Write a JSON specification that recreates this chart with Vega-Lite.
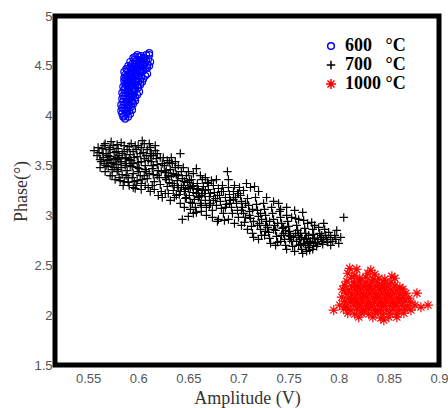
{
"$schema": "https://vega.github.io/schema/vega-lite/v6.json",
"width": 384, "height": 349,
"autosize": {"type": "none"},
"padding": {"left": 55, "top": 16, "right": 9, "bottom": 43},
"background": "white",
"config": {
  "view": {"stroke": "#000", "strokeWidth": 5},
  "axis": {"labelFont": "Liberation Sans", "labelFontSize": 13, "labelColor": "#555", "titleFont": "Liberation Serif", "titleFontSize": 18, "titleFontWeight": "normal", "titleColor": "#333", "ticks": false, "domain": false, "grid": false, "labelOverlap": false, "labelFlush": false},
  "legend": {"orient": "none", "legendX": 267, "legendY": 21, "padding": 0, "labelFont": "Liberation Serif", "labelFontWeight": "bold", "labelFontSize": 18, "labelColor": "#000", "symbolSize": 50, "rowPadding": 1, "labelOffset": 5}
},
"data": {"values": [
{"a":0.587,"p":3.97,"t":"600"},{"a":0.585,"p":3.99,"t":"600"},{"a":0.590,"p":3.99,"t":"600"},{"a":0.584,"p":4.02,"t":"600"},{"a":0.588,"p":4.02,"t":"600"},{"a":0.592,"p":4.02,"t":"600"},{"a":0.583,"p":4.05,"t":"600"},{"a":0.587,"p":4.05,"t":"600"},{"a":0.591,"p":4.05,"t":"600"},{"a":0.594,"p":4.06,"t":"600"},{"a":0.584,"p":4.08,"t":"600"},{"a":0.589,"p":4.08,"t":"600"},{"a":0.593,"p":4.09,"t":"600"},{"a":0.583,"p":4.11,"t":"600"},{"a":0.586,"p":4.11,"t":"600"},{"a":0.590,"p":4.12,"t":"600"},{"a":0.595,"p":4.12,"t":"600"},{"a":0.585,"p":4.14,"t":"600"},{"a":0.589,"p":4.14,"t":"600"},{"a":0.593,"p":4.15,"t":"600"},{"a":0.597,"p":4.15,"t":"600"},{"a":0.584,"p":4.17,"t":"600"},{"a":0.588,"p":4.17,"t":"600"},{"a":0.592,"p":4.18,"t":"600"},{"a":0.597,"p":4.18,"t":"600"},{"a":0.585,"p":4.20,"t":"600"},{"a":0.590,"p":4.20,"t":"600"},{"a":0.594,"p":4.21,"t":"600"},{"a":0.599,"p":4.21,"t":"600"},{"a":0.584,"p":4.23,"t":"600"},{"a":0.587,"p":4.23,"t":"600"},{"a":0.591,"p":4.24,"t":"600"},{"a":0.596,"p":4.24,"t":"600"},{"a":0.601,"p":4.24,"t":"600"},{"a":0.586,"p":4.26,"t":"600"},{"a":0.590,"p":4.27,"t":"600"},{"a":0.594,"p":4.27,"t":"600"},{"a":0.600,"p":4.28,"t":"600"},{"a":0.585,"p":4.29,"t":"600"},{"a":0.589,"p":4.30,"t":"600"},{"a":0.593,"p":4.30,"t":"600"},{"a":0.597,"p":4.31,"t":"600"},{"a":0.602,"p":4.31,"t":"600"},{"a":0.587,"p":4.32,"t":"600"},{"a":0.591,"p":4.33,"t":"600"},{"a":0.595,"p":4.33,"t":"600"},{"a":0.600,"p":4.34,"t":"600"},{"a":0.604,"p":4.34,"t":"600"},{"a":0.586,"p":4.35,"t":"600"},{"a":0.590,"p":4.36,"t":"600"},{"a":0.594,"p":4.36,"t":"600"},{"a":0.598,"p":4.37,"t":"600"},{"a":0.605,"p":4.37,"t":"600"},{"a":0.588,"p":4.38,"t":"600"},{"a":0.592,"p":4.39,"t":"600"},{"a":0.596,"p":4.39,"t":"600"},{"a":0.601,"p":4.40,"t":"600"},{"a":0.607,"p":4.40,"t":"600"},{"a":0.587,"p":4.41,"t":"600"},{"a":0.591,"p":4.42,"t":"600"},{"a":0.595,"p":4.42,"t":"600"},{"a":0.599,"p":4.43,"t":"600"},{"a":0.603,"p":4.43,"t":"600"},{"a":0.609,"p":4.42,"t":"600"},{"a":0.586,"p":4.44,"t":"600"},{"a":0.590,"p":4.45,"t":"600"},{"a":0.594,"p":4.45,"t":"600"},{"a":0.598,"p":4.46,"t":"600"},{"a":0.602,"p":4.46,"t":"600"},{"a":0.607,"p":4.47,"t":"600"},{"a":0.589,"p":4.47,"t":"600"},{"a":0.593,"p":4.48,"t":"600"},{"a":0.597,"p":4.49,"t":"600"},{"a":0.601,"p":4.49,"t":"600"},{"a":0.605,"p":4.50,"t":"600"},{"a":0.611,"p":4.50,"t":"600"},{"a":0.590,"p":4.50,"t":"600"},{"a":0.594,"p":4.52,"t":"600"},{"a":0.598,"p":4.52,"t":"600"},{"a":0.602,"p":4.53,"t":"600"},{"a":0.607,"p":4.53,"t":"600"},{"a":0.612,"p":4.54,"t":"600"},{"a":0.592,"p":4.54,"t":"600"},{"a":0.596,"p":4.56,"t":"600"},{"a":0.600,"p":4.56,"t":"600"},{"a":0.605,"p":4.57,"t":"600"},{"a":0.610,"p":4.57,"t":"600"},{"a":0.597,"p":4.59,"t":"600"},{"a":0.601,"p":4.59,"t":"600"},{"a":0.606,"p":4.58,"t":"600"},{"a":0.599,"p":4.61,"t":"600"},{"a":0.611,"p":4.61,"t":"600"},{"a":0.611,"p":4.63,"t":"600"},{"a":0.595,"p":4.58,"t":"600"},
{"a":0.586,"p":4.00,"t":"600"},{"a":0.589,"p":4.04,"t":"600"},{"a":0.586,"p":4.07,"t":"600"},{"a":0.591,"p":4.10,"t":"600"},{"a":0.588,"p":4.13,"t":"600"},{"a":0.591,"p":4.16,"t":"600"},{"a":0.595,"p":4.19,"t":"600"},{"a":0.587,"p":4.19,"t":"600"},{"a":0.592,"p":4.22,"t":"600"},{"a":0.589,"p":4.25,"t":"600"},{"a":0.597,"p":4.26,"t":"600"},{"a":0.587,"p":4.28,"t":"600"},{"a":0.591,"p":4.29,"t":"600"},{"a":0.595,"p":4.29,"t":"600"},{"a":0.599,"p":4.30,"t":"600"},{"a":0.589,"p":4.33,"t":"600"},{"a":0.593,"p":4.34,"t":"600"},{"a":0.597,"p":4.35,"t":"600"},{"a":0.602,"p":4.36,"t":"600"},{"a":0.588,"p":4.36,"t":"600"},{"a":0.594,"p":4.38,"t":"600"},{"a":0.598,"p":4.40,"t":"600"},{"a":0.603,"p":4.39,"t":"600"},{"a":0.589,"p":4.40,"t":"600"},{"a":0.593,"p":4.43,"t":"600"},{"a":0.597,"p":4.44,"t":"600"},{"a":0.601,"p":4.44,"t":"600"},{"a":0.605,"p":4.45,"t":"600"},{"a":0.588,"p":4.47,"t":"600"},{"a":0.592,"p":4.49,"t":"600"},{"a":0.596,"p":4.47,"t":"600"},{"a":0.600,"p":4.48,"t":"600"},{"a":0.604,"p":4.48,"t":"600"},{"a":0.609,"p":4.48,"t":"600"},{"a":0.596,"p":4.51,"t":"600"},{"a":0.600,"p":4.51,"t":"600"},{"a":0.604,"p":4.52,"t":"600"},{"a":0.609,"p":4.51,"t":"600"},{"a":0.598,"p":4.55,"t":"600"},{"a":0.603,"p":4.55,"t":"600"},{"a":0.608,"p":4.55,"t":"600"},{"a":0.603,"p":4.60,"t":"600"},{"a":0.608,"p":4.61,"t":"600"},{"a":0.594,"p":4.14,"t":"600"},{"a":0.586,"p":4.38,"t":"600"},
{"a":0.556,"p":3.65,"t":"700"},{"a":0.559,"p":3.60,"t":"700"},{"a":0.561,"p":3.63,"t":"700"},{"a":0.562,"p":3.56,"t":"700"},{"a":0.564,"p":3.67,"t":"700"},{"a":0.565,"p":3.58,"t":"700"},{"a":0.566,"p":3.52,"t":"700"},{"a":0.567,"p":3.72,"t":"700"},{"a":0.568,"p":3.62,"t":"700"},{"a":0.569,"p":3.55,"t":"700"},{"a":0.570,"p":3.49,"t":"700"},{"a":0.571,"p":3.66,"t":"700"},{"a":0.572,"p":3.59,"t":"700"},{"a":0.573,"p":3.53,"t":"700"},{"a":0.574,"p":3.46,"t":"700"},{"a":0.575,"p":3.70,"t":"700"},{"a":0.576,"p":3.63,"t":"700"},{"a":0.577,"p":3.57,"t":"700"},{"a":0.578,"p":3.51,"t":"700"},{"a":0.579,"p":3.44,"t":"700"},{"a":0.580,"p":3.67,"t":"700"},{"a":0.581,"p":3.60,"t":"700"},{"a":0.582,"p":3.54,"t":"700"},{"a":0.583,"p":3.48,"t":"700"},{"a":0.584,"p":3.41,"t":"700"},{"a":0.585,"p":3.30,"t":"700"},{"a":0.586,"p":3.64,"t":"700"},{"a":0.587,"p":3.58,"t":"700"},{"a":0.588,"p":3.52,"t":"700"},{"a":0.589,"p":3.45,"t":"700"},{"a":0.590,"p":3.38,"t":"700"},{"a":0.591,"p":3.69,"t":"700"},{"a":0.592,"p":3.61,"t":"700"},{"a":0.593,"p":3.55,"t":"700"},{"a":0.594,"p":3.49,"t":"700"},{"a":0.595,"p":3.42,"t":"700"},{"a":0.596,"p":3.34,"t":"700"},{"a":0.597,"p":3.27,"t":"700"},{"a":0.598,"p":3.66,"t":"700"},{"a":0.599,"p":3.59,"t":"700"},{"a":0.600,"p":3.53,"t":"700"},{"a":0.601,"p":3.47,"t":"700"},{"a":0.602,"p":3.40,"t":"700"},{"a":0.603,"p":3.32,"t":"700"},{"a":0.604,"p":3.75,"t":"700"},{"a":0.605,"p":3.63,"t":"700"},{"a":0.606,"p":3.57,"t":"700"},{"a":0.607,"p":3.50,"t":"700"},{"a":0.608,"p":3.44,"t":"700"},{"a":0.609,"p":3.37,"t":"700"},{"a":0.610,"p":3.28,"t":"700"},{"a":0.611,"p":3.72,"t":"700"},{"a":0.612,"p":3.60,"t":"700"},{"a":0.613,"p":3.54,"t":"700"},{"a":0.614,"p":3.47,"t":"700"},{"a":0.615,"p":3.41,"t":"700"},{"a":0.616,"p":3.34,"t":"700"},{"a":0.617,"p":3.65,"t":"700"},{"a":0.618,"p":3.57,"t":"700"},{"a":0.619,"p":3.51,"t":"700"},{"a":0.620,"p":3.45,"t":"700"},{"a":0.621,"p":3.38,"t":"700"},{"a":0.622,"p":3.31,"t":"700"},{"a":0.623,"p":3.24,"t":"700"},
{"a":0.568,"p":3.50,"t":"700"},{"a":0.572,"p":3.68,"t":"700"},{"a":0.576,"p":3.48,"t":"700"},{"a":0.580,"p":3.56,"t":"700"},{"a":0.584,"p":3.62,"t":"700"},{"a":0.588,"p":3.40,"t":"700"},{"a":0.592,"p":3.50,"t":"700"},{"a":0.596,"p":3.58,"t":"700"},{"a":0.600,"p":3.44,"t":"700"},{"a":0.604,"p":3.36,"t":"700"},{"a":0.574,"p":3.40,"t":"700"},{"a":0.582,"p":3.35,"t":"700"},{"a":0.590,"p":3.33,"t":"700"},{"a":0.598,"p":3.30,"t":"700"},{"a":0.606,"p":3.40,"t":"700"},{"a":0.610,"p":3.55,"t":"700"},{"a":0.586,"p":3.70,"t":"700"},{"a":0.578,"p":3.64,"t":"700"},{"a":0.595,"p":3.64,"t":"700"},{"a":0.602,"p":3.62,"t":"700"},{"a":0.563,"p":3.54,"t":"700"},{"a":0.570,"p":3.60,"t":"700"},{"a":0.580,"p":3.46,"t":"700"},{"a":0.588,"p":3.57,"t":"700"},{"a":0.594,"p":3.38,"t":"700"},{"a":0.608,"p":3.60,"t":"700"},{"a":0.614,"p":3.30,"t":"700"},{"a":0.600,"p":3.70,"t":"700"},{"a":0.617,"p":3.70,"t":"700"},{"a":0.613,"p":3.62,"t":"700"},
{"a":0.625,"p":3.58,"t":"700"},{"a":0.626,"p":3.50,"t":"700"},{"a":0.627,"p":3.43,"t":"700"},{"a":0.628,"p":3.36,"t":"700"},{"a":0.629,"p":3.29,"t":"700"},{"a":0.630,"p":3.22,"t":"700"},{"a":0.631,"p":3.53,"t":"700"},{"a":0.632,"p":3.46,"t":"700"},{"a":0.633,"p":3.39,"t":"700"},{"a":0.634,"p":3.32,"t":"700"},{"a":0.635,"p":3.25,"t":"700"},{"a":0.636,"p":3.18,"t":"700"},{"a":0.637,"p":3.48,"t":"700"},{"a":0.638,"p":3.41,"t":"700"},{"a":0.639,"p":3.35,"t":"700"},{"a":0.640,"p":3.28,"t":"700"},{"a":0.641,"p":3.21,"t":"700"},{"a":0.642,"p":3.62,"t":"700"},{"a":0.643,"p":3.44,"t":"700"},{"a":0.644,"p":3.37,"t":"700"},{"a":0.645,"p":3.30,"t":"700"},{"a":0.646,"p":3.24,"t":"700"},{"a":0.647,"p":3.17,"t":"700"},{"a":0.644,"p":2.96,"t":"700"},{"a":0.648,"p":3.40,"t":"700"},{"a":0.649,"p":3.33,"t":"700"},{"a":0.650,"p":3.27,"t":"700"},{"a":0.651,"p":3.20,"t":"700"},{"a":0.652,"p":3.13,"t":"700"},{"a":0.650,"p":2.99,"t":"700"},{"a":0.653,"p":3.36,"t":"700"},{"a":0.654,"p":3.29,"t":"700"},{"a":0.655,"p":3.23,"t":"700"},{"a":0.656,"p":3.16,"t":"700"},{"a":0.657,"p":3.08,"t":"700"},{"a":0.655,"p":3.02,"t":"700"},{"a":0.658,"p":3.47,"t":"700"},{"a":0.659,"p":3.32,"t":"700"},{"a":0.660,"p":3.26,"t":"700"},{"a":0.661,"p":3.19,"t":"700"},{"a":0.662,"p":3.12,"t":"700"},{"a":0.663,"p":3.04,"t":"700"},{"a":0.664,"p":3.36,"t":"700"},{"a":0.665,"p":3.29,"t":"700"},{"a":0.666,"p":3.22,"t":"700"},{"a":0.667,"p":3.15,"t":"700"},{"a":0.668,"p":3.08,"t":"700"},{"a":0.669,"p":3.33,"t":"700"},{"a":0.670,"p":3.26,"t":"700"},{"a":0.671,"p":3.19,"t":"700"},{"a":0.672,"p":3.12,"t":"700"},{"a":0.674,"p":3.05,"t":"700"},{"a":0.675,"p":3.30,"t":"700"},{"a":0.676,"p":3.23,"t":"700"},{"a":0.677,"p":3.17,"t":"700"},{"a":0.678,"p":3.10,"t":"700"},{"a":0.679,"p":2.94,"t":"700"},{"a":0.680,"p":3.27,"t":"700"},{"a":0.681,"p":3.20,"t":"700"},{"a":0.682,"p":3.14,"t":"700"},{"a":0.683,"p":3.07,"t":"700"},{"a":0.686,"p":2.95,"t":"700"},{"a":0.685,"p":3.24,"t":"700"},{"a":0.687,"p":3.18,"t":"700"},{"a":0.688,"p":3.11,"t":"700"},{"a":0.689,"p":3.44,"t":"700"},{"a":0.690,"p":3.36,"t":"700"},{"a":0.691,"p":3.21,"t":"700"},{"a":0.692,"p":3.15,"t":"700"},{"a":0.693,"p":3.08,"t":"700"},{"a":0.694,"p":3.02,"t":"700"},{"a":0.696,"p":3.30,"t":"700"},{"a":0.697,"p":3.18,"t":"700"},{"a":0.698,"p":3.12,"t":"700"},{"a":0.699,"p":3.05,"t":"700"},{"a":0.700,"p":2.98,"t":"700"},
{"a":0.628,"p":3.45,"t":"700"},{"a":0.634,"p":3.52,"t":"700"},{"a":0.640,"p":3.40,"t":"700"},{"a":0.646,"p":3.34,"t":"700"},{"a":0.652,"p":3.28,"t":"700"},{"a":0.658,"p":3.22,"t":"700"},{"a":0.636,"p":3.30,"t":"700"},{"a":0.642,"p":3.24,"t":"700"},{"a":0.648,"p":3.18,"t":"700"},{"a":0.654,"p":3.12,"t":"700"},{"a":0.660,"p":3.18,"t":"700"},{"a":0.630,"p":3.40,"t":"700"},{"a":0.664,"p":3.25,"t":"700"},{"a":0.670,"p":3.32,"t":"700"},{"a":0.672,"p":3.22,"t":"700"},
{"a":0.701,"p":3.28,"t":"700"},{"a":0.702,"p":3.20,"t":"700"},{"a":0.703,"p":3.14,"t":"700"},{"a":0.704,"p":3.08,"t":"700"},{"a":0.705,"p":3.02,"t":"700"},{"a":0.706,"p":2.93,"t":"700"},{"a":0.708,"p":3.32,"t":"700"},{"a":0.709,"p":3.17,"t":"700"},{"a":0.710,"p":3.10,"t":"700"},{"a":0.711,"p":3.04,"t":"700"},{"a":0.712,"p":2.97,"t":"700"},{"a":0.713,"p":2.89,"t":"700"},{"a":0.714,"p":2.82,"t":"700"},{"a":0.716,"p":3.29,"t":"700"},{"a":0.717,"p":3.18,"t":"700"},{"a":0.718,"p":3.11,"t":"700"},{"a":0.719,"p":3.05,"t":"700"},{"a":0.720,"p":2.99,"t":"700"},{"a":0.721,"p":2.92,"t":"700"},{"a":0.722,"p":2.86,"t":"700"},{"a":0.723,"p":2.80,"t":"700"},{"a":0.725,"p":3.12,"t":"700"},{"a":0.726,"p":3.06,"t":"700"},{"a":0.727,"p":3.00,"t":"700"},{"a":0.728,"p":2.94,"t":"700"},{"a":0.729,"p":2.88,"t":"700"},{"a":0.730,"p":2.83,"t":"700"},{"a":0.731,"p":2.77,"t":"700"},{"a":0.733,"p":3.08,"t":"700"},{"a":0.734,"p":3.02,"t":"700"},{"a":0.735,"p":2.96,"t":"700"},{"a":0.736,"p":2.90,"t":"700"},{"a":0.737,"p":2.85,"t":"700"},{"a":0.738,"p":2.79,"t":"700"},{"a":0.739,"p":2.73,"t":"700"},{"a":0.740,"p":3.12,"t":"700"},{"a":0.741,"p":3.04,"t":"700"},{"a":0.742,"p":2.98,"t":"700"},{"a":0.743,"p":2.92,"t":"700"},{"a":0.744,"p":2.87,"t":"700"},{"a":0.745,"p":2.82,"t":"700"},{"a":0.746,"p":2.76,"t":"700"},{"a":0.747,"p":2.70,"t":"700"},{"a":0.748,"p":3.00,"t":"700"},{"a":0.749,"p":2.94,"t":"700"},{"a":0.750,"p":2.89,"t":"700"},{"a":0.751,"p":2.84,"t":"700"},{"a":0.752,"p":2.79,"t":"700"},{"a":0.753,"p":2.74,"t":"700"},{"a":0.754,"p":2.69,"t":"700"},{"a":0.756,"p":3.05,"t":"700"},{"a":0.757,"p":2.97,"t":"700"},{"a":0.758,"p":2.90,"t":"700"},{"a":0.759,"p":2.85,"t":"700"},{"a":0.760,"p":2.80,"t":"700"},{"a":0.761,"p":2.76,"t":"700"},{"a":0.762,"p":2.71,"t":"700"},{"a":0.763,"p":2.66,"t":"700"},{"a":0.764,"p":3.03,"t":"700"},{"a":0.765,"p":2.95,"t":"700"},{"a":0.766,"p":2.87,"t":"700"},{"a":0.767,"p":2.82,"t":"700"},{"a":0.768,"p":2.77,"t":"700"},{"a":0.769,"p":2.73,"t":"700"},{"a":0.770,"p":2.68,"t":"700"},{"a":0.771,"p":2.65,"t":"700"},{"a":0.773,"p":2.93,"t":"700"},{"a":0.774,"p":2.86,"t":"700"},{"a":0.775,"p":2.81,"t":"700"},{"a":0.776,"p":2.77,"t":"700"},{"a":0.777,"p":2.73,"t":"700"},{"a":0.778,"p":2.69,"t":"700"},{"a":0.780,"p":2.88,"t":"700"},{"a":0.781,"p":2.82,"t":"700"},{"a":0.782,"p":2.78,"t":"700"},{"a":0.783,"p":2.74,"t":"700"},{"a":0.784,"p":2.71,"t":"700"},{"a":0.786,"p":2.86,"t":"700"},{"a":0.787,"p":2.80,"t":"700"},{"a":0.788,"p":2.76,"t":"700"},{"a":0.789,"p":2.73,"t":"700"},{"a":0.790,"p":2.83,"t":"700"},{"a":0.792,"p":2.78,"t":"700"},{"a":0.794,"p":2.74,"t":"700"},{"a":0.796,"p":2.80,"t":"700"},{"a":0.798,"p":2.85,"t":"700"},{"a":0.800,"p":2.72,"t":"700"},{"a":0.805,"p":2.98,"t":"700"},{"a":0.802,"p":2.78,"t":"700"},
{"a":0.755,"p":2.78,"t":"700"},{"a":0.758,"p":2.74,"t":"700"},{"a":0.762,"p":2.82,"t":"700"},{"a":0.766,"p":2.76,"t":"700"},{"a":0.770,"p":2.80,"t":"700"},{"a":0.772,"p":2.74,"t":"700"},{"a":0.760,"p":2.70,"t":"700"},{"a":0.765,"p":2.72,"t":"700"},{"a":0.774,"p":2.77,"t":"700"},{"a":0.745,"p":2.88,"t":"700"},{"a":0.750,"p":2.80,"t":"700"},{"a":0.735,"p":2.86,"t":"700"},{"a":0.722,"p":3.02,"t":"700"},{"a":0.714,"p":3.06,"t":"700"},{"a":0.707,"p":3.12,"t":"700"},{"a":0.727,"p":2.90,"t":"700"},
{"a":0.560,"p":3.68,"t":"700"},{"a":0.566,"p":3.70,"t":"700"},{"a":0.573,"p":3.74,"t":"700"},{"a":0.579,"p":3.71,"t":"700"},{"a":0.583,"p":3.73,"t":"700"},{"a":0.589,"p":3.66,"t":"700"},{"a":0.593,"p":3.72,"t":"700"},{"a":0.597,"p":3.70,"t":"700"},{"a":0.603,"p":3.68,"t":"700"},{"a":0.606,"p":3.72,"t":"700"},{"a":0.609,"p":3.66,"t":"700"},{"a":0.612,"p":3.68,"t":"700"},{"a":0.615,"p":3.60,"t":"700"},{"a":0.619,"p":3.62,"t":"700"},{"a":0.622,"p":3.58,"t":"700"},{"a":0.624,"p":3.52,"t":"700"},{"a":0.629,"p":3.55,"t":"700"},{"a":0.633,"p":3.58,"t":"700"},{"a":0.637,"p":3.54,"t":"700"},{"a":0.640,"p":3.50,"t":"700"},{"a":0.645,"p":3.48,"t":"700"},{"a":0.650,"p":3.44,"t":"700"},{"a":0.655,"p":3.42,"t":"700"},{"a":0.662,"p":3.40,"t":"700"},{"a":0.667,"p":3.38,"t":"700"},{"a":0.673,"p":3.35,"t":"700"},{"a":0.678,"p":3.36,"t":"700"},{"a":0.684,"p":3.30,"t":"700"},{"a":0.690,"p":3.28,"t":"700"},{"a":0.695,"p":3.24,"t":"700"},{"a":0.700,"p":3.22,"t":"700"},{"a":0.705,"p":3.25,"t":"700"},{"a":0.712,"p":3.28,"t":"700"},{"a":0.720,"p":3.24,"t":"700"},{"a":0.728,"p":3.18,"t":"700"},{"a":0.735,"p":3.14,"t":"700"},{"a":0.742,"p":3.06,"t":"700"},{"a":0.748,"p":3.08,"t":"700"},{"a":0.753,"p":2.98,"t":"700"},{"a":0.760,"p":2.96,"t":"700"},{"a":0.769,"p":2.92,"t":"700"},{"a":0.776,"p":2.90,"t":"700"},{"a":0.785,"p":2.92,"t":"700"},
{"a":0.562,"p":3.48,"t":"700"},{"a":0.567,"p":3.44,"t":"700"},{"a":0.572,"p":3.40,"t":"700"},{"a":0.577,"p":3.36,"t":"700"},{"a":0.581,"p":3.38,"t":"700"},{"a":0.586,"p":3.34,"t":"700"},{"a":0.591,"p":3.30,"t":"700"},{"a":0.595,"p":3.28,"t":"700"},{"a":0.599,"p":3.35,"t":"700"},{"a":0.603,"p":3.26,"t":"700"},{"a":0.607,"p":3.30,"t":"700"},{"a":0.612,"p":3.24,"t":"700"},{"a":0.616,"p":3.26,"t":"700"},{"a":0.620,"p":3.20,"t":"700"},{"a":0.624,"p":3.18,"t":"700"},{"a":0.627,"p":3.22,"t":"700"},{"a":0.632,"p":3.15,"t":"700"},{"a":0.638,"p":3.20,"t":"700"},{"a":0.642,"p":3.12,"t":"700"},{"a":0.646,"p":3.08,"t":"700"},{"a":0.652,"p":3.06,"t":"700"},{"a":0.658,"p":3.03,"t":"700"},{"a":0.663,"p":3.10,"t":"700"},{"a":0.668,"p":3.00,"t":"700"},{"a":0.674,"p":2.98,"t":"700"},{"a":0.680,"p":2.96,"t":"700"},{"a":0.685,"p":3.02,"t":"700"},{"a":0.690,"p":2.96,"t":"700"},{"a":0.696,"p":2.92,"t":"700"},{"a":0.703,"p":2.90,"t":"700"},{"a":0.709,"p":2.86,"t":"700"},{"a":0.715,"p":2.78,"t":"700"},{"a":0.720,"p":2.76,"t":"700"},{"a":0.726,"p":2.80,"t":"700"},{"a":0.732,"p":2.72,"t":"700"},{"a":0.737,"p":2.70,"t":"700"},{"a":0.742,"p":2.74,"t":"700"},{"a":0.748,"p":2.66,"t":"700"},{"a":0.756,"p":2.64,"t":"700"},{"a":0.764,"p":2.62,"t":"700"},{"a":0.768,"p":2.64,"t":"700"},{"a":0.774,"p":2.66,"t":"700"},{"a":0.779,"p":2.72,"t":"700"},{"a":0.785,"p":2.76,"t":"700"},{"a":0.792,"p":2.70,"t":"700"},{"a":0.797,"p":2.76,"t":"700"},
{"a":0.565,"p":3.62,"t":"700"},{"a":0.571,"p":3.56,"t":"700"},{"a":0.575,"p":3.52,"t":"700"},{"a":0.579,"p":3.58,"t":"700"},{"a":0.583,"p":3.54,"t":"700"},{"a":0.587,"p":3.50,"t":"700"},{"a":0.591,"p":3.56,"t":"700"},{"a":0.595,"p":3.52,"t":"700"},{"a":0.599,"p":3.48,"t":"700"},{"a":0.603,"p":3.54,"t":"700"},{"a":0.607,"p":3.46,"t":"700"},{"a":0.611,"p":3.42,"t":"700"},{"a":0.615,"p":3.50,"t":"700"},{"a":0.619,"p":3.40,"t":"700"},{"a":0.623,"p":3.44,"t":"700"},{"a":0.627,"p":3.38,"t":"700"},{"a":0.631,"p":3.33,"t":"700"},{"a":0.635,"p":3.42,"t":"700"},{"a":0.639,"p":3.30,"t":"700"},{"a":0.643,"p":3.28,"t":"700"},{"a":0.647,"p":3.26,"t":"700"},{"a":0.651,"p":3.35,"t":"700"},{"a":0.655,"p":3.30,"t":"700"},{"a":0.659,"p":3.27,"t":"700"},{"a":0.663,"p":3.20,"t":"700"},{"a":0.667,"p":3.25,"t":"700"},{"a":0.671,"p":3.10,"t":"700"},{"a":0.675,"p":3.15,"t":"700"},{"a":0.679,"p":3.20,"t":"700"},{"a":0.683,"p":3.24,"t":"700"},{"a":0.687,"p":3.08,"t":"700"},{"a":0.691,"p":3.12,"t":"700"},{"a":0.695,"p":3.16,"t":"700"},{"a":0.699,"p":3.22,"t":"700"},{"a":0.703,"p":3.05,"t":"700"},{"a":0.707,"p":2.98,"t":"700"},{"a":0.711,"p":3.00,"t":"700"},{"a":0.715,"p":2.94,"t":"700"},{"a":0.719,"p":2.90,"t":"700"},{"a":0.723,"p":2.96,"t":"700"},{"a":0.727,"p":2.84,"t":"700"},{"a":0.731,"p":2.94,"t":"700"},{"a":0.739,"p":2.92,"t":"700"},{"a":0.743,"p":2.80,"t":"700"},{"a":0.747,"p":2.85,"t":"700"},{"a":0.751,"p":2.76,"t":"700"},{"a":0.757,"p":2.82,"t":"700"},{"a":0.763,"p":2.78,"t":"700"},{"a":0.767,"p":2.70,"t":"700"},{"a":0.771,"p":2.72,"t":"700"},{"a":0.775,"p":2.70,"t":"700"},{"a":0.779,"p":2.76,"t":"700"},{"a":0.783,"p":2.80,"t":"700"},
{"a":0.811,"p":2.47,"t":"1000"},{"a":0.818,"p":2.46,"t":"1000"},{"a":0.832,"p":2.45,"t":"1000"},{"a":0.809,"p":2.42,"t":"1000"},{"a":0.829,"p":2.42,"t":"1000"},{"a":0.836,"p":2.41,"t":"1000"},{"a":0.853,"p":2.39,"t":"1000"},{"a":0.813,"p":2.38,"t":"1000"},{"a":0.821,"p":2.37,"t":"1000"},{"a":0.827,"p":2.38,"t":"1000"},{"a":0.840,"p":2.37,"t":"1000"},{"a":0.846,"p":2.36,"t":"1000"},{"a":0.856,"p":2.37,"t":"1000"},{"a":0.808,"p":2.34,"t":"1000"},{"a":0.815,"p":2.33,"t":"1000"},{"a":0.821,"p":2.34,"t":"1000"},{"a":0.827,"p":2.33,"t":"1000"},{"a":0.833,"p":2.34,"t":"1000"},{"a":0.839,"p":2.33,"t":"1000"},{"a":0.846,"p":2.32,"t":"1000"},{"a":0.852,"p":2.33,"t":"1000"},{"a":0.806,"p":2.30,"t":"1000"},{"a":0.813,"p":2.29,"t":"1000"},{"a":0.819,"p":2.30,"t":"1000"},{"a":0.825,"p":2.29,"t":"1000"},{"a":0.831,"p":2.30,"t":"1000"},{"a":0.837,"p":2.29,"t":"1000"},{"a":0.843,"p":2.30,"t":"1000"},{"a":0.849,"p":2.29,"t":"1000"},{"a":0.856,"p":2.30,"t":"1000"},{"a":0.861,"p":2.28,"t":"1000"},{"a":0.804,"p":2.26,"t":"1000"},{"a":0.810,"p":2.25,"t":"1000"},{"a":0.816,"p":2.26,"t":"1000"},{"a":0.822,"p":2.25,"t":"1000"},{"a":0.828,"p":2.26,"t":"1000"},{"a":0.834,"p":2.25,"t":"1000"},{"a":0.840,"p":2.26,"t":"1000"},{"a":0.846,"p":2.25,"t":"1000"},{"a":0.852,"p":2.26,"t":"1000"},{"a":0.858,"p":2.25,"t":"1000"},{"a":0.864,"p":2.26,"t":"1000"},{"a":0.807,"p":2.22,"t":"1000"},{"a":0.813,"p":2.21,"t":"1000"},{"a":0.819,"p":2.22,"t":"1000"},{"a":0.825,"p":2.21,"t":"1000"},{"a":0.831,"p":2.22,"t":"1000"},{"a":0.837,"p":2.21,"t":"1000"},{"a":0.843,"p":2.22,"t":"1000"},{"a":0.849,"p":2.21,"t":"1000"},{"a":0.855,"p":2.22,"t":"1000"},{"a":0.861,"p":2.21,"t":"1000"},{"a":0.867,"p":2.22,"t":"1000"},{"a":0.878,"p":2.22,"t":"1000"},{"a":0.803,"p":2.18,"t":"1000"},{"a":0.810,"p":2.17,"t":"1000"},{"a":0.816,"p":2.18,"t":"1000"},{"a":0.822,"p":2.17,"t":"1000"},{"a":0.828,"p":2.18,"t":"1000"},{"a":0.834,"p":2.17,"t":"1000"},{"a":0.840,"p":2.18,"t":"1000"},{"a":0.846,"p":2.17,"t":"1000"},{"a":0.852,"p":2.18,"t":"1000"},{"a":0.858,"p":2.17,"t":"1000"},{"a":0.864,"p":2.18,"t":"1000"},{"a":0.870,"p":2.17,"t":"1000"},{"a":0.806,"p":2.14,"t":"1000"},{"a":0.812,"p":2.13,"t":"1000"},{"a":0.818,"p":2.14,"t":"1000"},{"a":0.824,"p":2.13,"t":"1000"},{"a":0.830,"p":2.14,"t":"1000"},{"a":0.836,"p":2.13,"t":"1000"},{"a":0.842,"p":2.14,"t":"1000"},{"a":0.848,"p":2.13,"t":"1000"},{"a":0.854,"p":2.14,"t":"1000"},{"a":0.860,"p":2.13,"t":"1000"},{"a":0.866,"p":2.14,"t":"1000"},{"a":0.872,"p":2.13,"t":"1000"},{"a":0.801,"p":2.10,"t":"1000"},{"a":0.808,"p":2.09,"t":"1000"},{"a":0.815,"p":2.10,"t":"1000"},{"a":0.821,"p":2.09,"t":"1000"},{"a":0.827,"p":2.10,"t":"1000"},{"a":0.833,"p":2.09,"t":"1000"},{"a":0.839,"p":2.10,"t":"1000"},{"a":0.845,"p":2.09,"t":"1000"},{"a":0.851,"p":2.10,"t":"1000"},{"a":0.857,"p":2.09,"t":"1000"},{"a":0.863,"p":2.10,"t":"1000"},{"a":0.869,"p":2.09,"t":"1000"},{"a":0.876,"p":2.10,"t":"1000"},{"a":0.882,"p":2.08,"t":"1000"},{"a":0.889,"p":2.10,"t":"1000"},{"a":0.795,"p":2.05,"t":"1000"},{"a":0.805,"p":2.06,"t":"1000"},{"a":0.812,"p":2.05,"t":"1000"},{"a":0.818,"p":2.06,"t":"1000"},{"a":0.824,"p":2.05,"t":"1000"},{"a":0.830,"p":2.06,"t":"1000"},{"a":0.836,"p":2.05,"t":"1000"},{"a":0.842,"p":2.06,"t":"1000"},{"a":0.848,"p":2.05,"t":"1000"},{"a":0.854,"p":2.06,"t":"1000"},{"a":0.860,"p":2.05,"t":"1000"},{"a":0.866,"p":2.06,"t":"1000"},{"a":0.872,"p":2.05,"t":"1000"},{"a":0.809,"p":2.02,"t":"1000"},{"a":0.816,"p":2.01,"t":"1000"},{"a":0.823,"p":2.02,"t":"1000"},{"a":0.830,"p":2.01,"t":"1000"},{"a":0.837,"p":2.02,"t":"1000"},{"a":0.844,"p":2.01,"t":"1000"},{"a":0.851,"p":2.02,"t":"1000"},{"a":0.858,"p":2.01,"t":"1000"},{"a":0.865,"p":2.02,"t":"1000"},{"a":0.820,"p":1.98,"t":"1000"},{"a":0.834,"p":1.98,"t":"1000"},{"a":0.842,"p":1.97,"t":"1000"},{"a":0.850,"p":1.98,"t":"1000"},{"a":0.858,"p":1.98,"t":"1000"},{"a":0.845,"p":1.95,"t":"1000"},
{"a":0.819,"p":2.28,"t":"1000"},{"a":0.831,"p":2.27,"t":"1000"},{"a":0.843,"p":2.28,"t":"1000"},{"a":0.825,"p":2.20,"t":"1000"},{"a":0.837,"p":2.19,"t":"1000"},{"a":0.849,"p":2.20,"t":"1000"},{"a":0.819,"p":2.12,"t":"1000"},{"a":0.831,"p":2.11,"t":"1000"},{"a":0.843,"p":2.12,"t":"1000"},{"a":0.855,"p":2.12,"t":"1000"},{"a":0.825,"p":2.04,"t":"1000"},{"a":0.839,"p":2.04,"t":"1000"},{"a":0.813,"p":2.16,"t":"1000"},{"a":0.861,"p":2.16,"t":"1000"},{"a":0.807,"p":2.08,"t":"1000"},{"a":0.834,"p":2.36,"t":"1000"},{"a":0.816,"p":2.40,"t":"1000"}
]},
"mark": {"type": "point", "filled": false, "strokeWidth": 1.2, "opacity": 1},
"encoding": {
  "x": {"field": "a", "type": "quantitative", "scale": {"domain": [0.517, 0.9], "nice": false, "zero": false}, "axis": {"title": "Amplitude (V)", "values": [0.55, 0.6, 0.65, 0.7, 0.75, 0.8, 0.85, 0.9], "format": "~g", "labelPadding": 7, "titleY": 33, "titleBaseline": "middle"}},
  "y": {"field": "p", "type": "quantitative", "scale": {"domain": [1.5, 5], "nice": false, "zero": false}, "axis": {"title": "Phase(°)", "values": [1.5, 2, 2.5, 3, 3.5, 4, 4.5, 5], "format": "~g", "labelPadding": 3, "titleX": -34, "titleY": 175, "titleBaseline": "middle", "titleAlign": "center"}},
  "color": {"field": "t", "type": "nominal", "scale": {"domain": ["600", "700", "1000"], "range": ["#0000ff", "#000000", "#ff0000"]}, "legend": {"title": null, "labelExpr": "datum.label == '1000' ? '1000 °C' : datum.label + '\u00a0\u00a0\u00a0°C'", "encode": {"symbols": {"update": {"strokeWidth": [{"test": "datum.value == '1000'", "value": 1}, {"value": 2.5}], "size": [{"test": "datum.value == '1000'", "value": 36}, {"value": 50}]}}}}},
  "shape": {"field": "t", "type": "nominal", "scale": {"domain": ["600", "700", "1000"], "range": ["circle", "M-1,0H1M0,-1V1", "M-1,0H1M0,-1V1M-0.7,-0.7L0.7,0.7M-0.7,0.7L0.7,-0.7"]}, "legend": {"title": null, "labelExpr": "datum.label == '1000' ? '1000 °C' : datum.label + '\u00a0\u00a0\u00a0°C'", "encode": {"symbols": {"update": {"strokeWidth": [{"test": "datum.value == '1000'", "value": 1}, {"value": 2.5}], "size": [{"test": "datum.value == '1000'", "value": 36}, {"value": 50}]}}}}},
  "size": {"field": "t", "type": "nominal", "scale": {"domain": ["600", "700", "1000"], "range": [45, 100, 64]}, "legend": null}
}
}
